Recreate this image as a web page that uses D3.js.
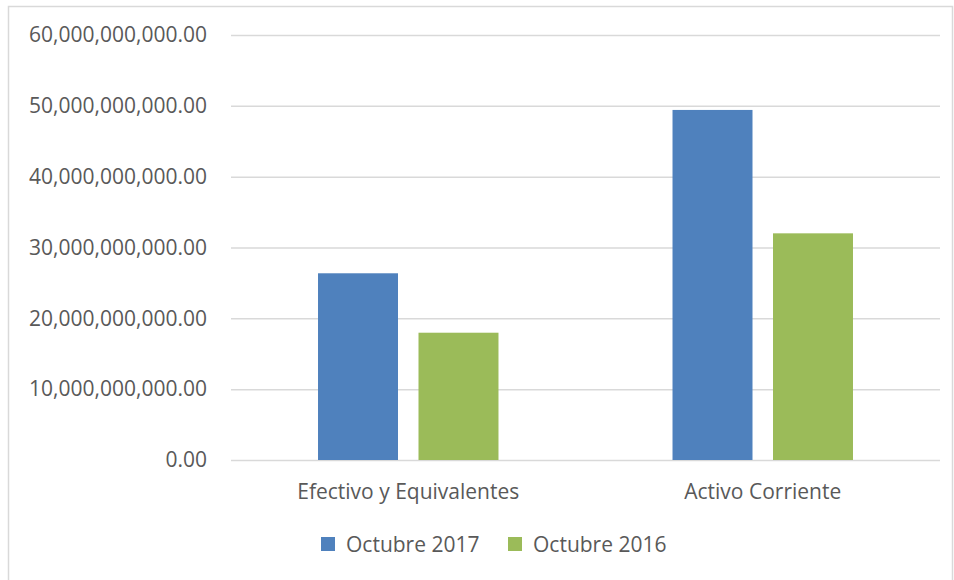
<!DOCTYPE html>
<html>
<head>
<meta charset="utf-8">
<script src="https://cdn.jsdelivr.net/npm/d3@7"></script>
<style>
  body { margin: 0; background: #fff; }
  svg text { font-family: "Open Sans", sans-serif; fill: #595959; }
</style>
</head>
<body>
<svg width="954" height="580"></svg>
<script>
const categories = ["Efectivo y Equivalentes", "Activo Corriente"];
const series = ["Octubre 2017", "Octubre 2016"];
const oct2017 = [26360000000, 49420000000];
const oct2016 = [17970000000, 32000000000];
const yTicks = [0, 10e9, 20e9, 30e9, 40e9, 50e9, 60e9];

const colors = ["#4f81bd", "#9bbb59"];

const svg = d3.select("svg"),
    width = +svg.attr("width"),
    height = +svg.attr("height");

const margin = {top: 35, right: 14, bottom: 120, left: 231};

// chart frame
svg.append("rect")
    .attr("x", 8.5).attr("y", 6.5)
    .attr("width", 944).attr("height", 580)
    .attr("fill", "none")
    .attr("stroke", "#d9d9d9")
    .attr("stroke-width", 1.5);

const data = categories.map((c, i) => ({cat: c, values: [oct2017[i], oct2016[i]]}));

const x0 = d3.scaleBand()
    .domain(categories)
    .range([margin.left, width - margin.right]);

const x1 = d3.scaleBand()
    .domain(series)
    .range([0, x0.bandwidth()])
    .paddingInner(0.204)
    .paddingOuter(0.866);

const y = d3.scaleLinear()
    .domain([0, 60e9])
    .range([height - margin.bottom, margin.top]);

const fmt = d3.format(",.2f");

// gridlines + y labels
const yAxis = svg.append("g")
    .attr("transform", `translate(${margin.left},0)`)
    .call(d3.axisLeft(y).tickValues(yTicks).tickFormat(fmt)
        .tickSize(-(width - margin.right - margin.left)).tickPadding(24));
yAxis.select(".domain").remove();
yAxis.selectAll(".tick line").attr("stroke", "#d9d9d9").attr("stroke-width", 1.5);
yAxis.selectAll(".tick text").attr("font-size", 21).style("fill", "#595959")
    .style("font-family", "'Open Sans', sans-serif");

// bars
const groups = svg.append("g").selectAll("g")
    .data(data)
    .enter().append("g")
    .attr("transform", d => `translate(${x0(d.cat)},0)`);

groups.selectAll("rect")
    .data(d => d.values.map((v, i) => ({key: series[i], value: v, i: i})))
    .enter().append("rect")
    .attr("x", d => x1(d.key))
    .attr("y", d => y(d.value))
    .attr("width", x1.bandwidth())
    .attr("height", d => y(0) - y(d.value))
    .attr("fill", d => colors[d.i]);

// category labels
svg.append("g").selectAll("text")
    .data(categories)
    .enter().append("text")
    .attr("x", d => x0(d) + x0.bandwidth() / 2)
    .attr("y", 499)
    .attr("text-anchor", "middle")
    .attr("font-size", 21)
    .text(d => d);

// legend
const legendX = [321, 508];
const legend = svg.append("g").selectAll("g")
    .data(series)
    .enter().append("g")
    .attr("transform", (d, i) => `translate(${legendX[i]},537)`);
legend.append("rect")
    .attr("width", 14).attr("height", 14)
    .attr("fill", (d, i) => colors[i]);
legend.append("text")
    .attr("x", 25).attr("y", 14.5)
    .attr("font-size", 21)
    .text(d => d);
</script>
</body>
</html>
